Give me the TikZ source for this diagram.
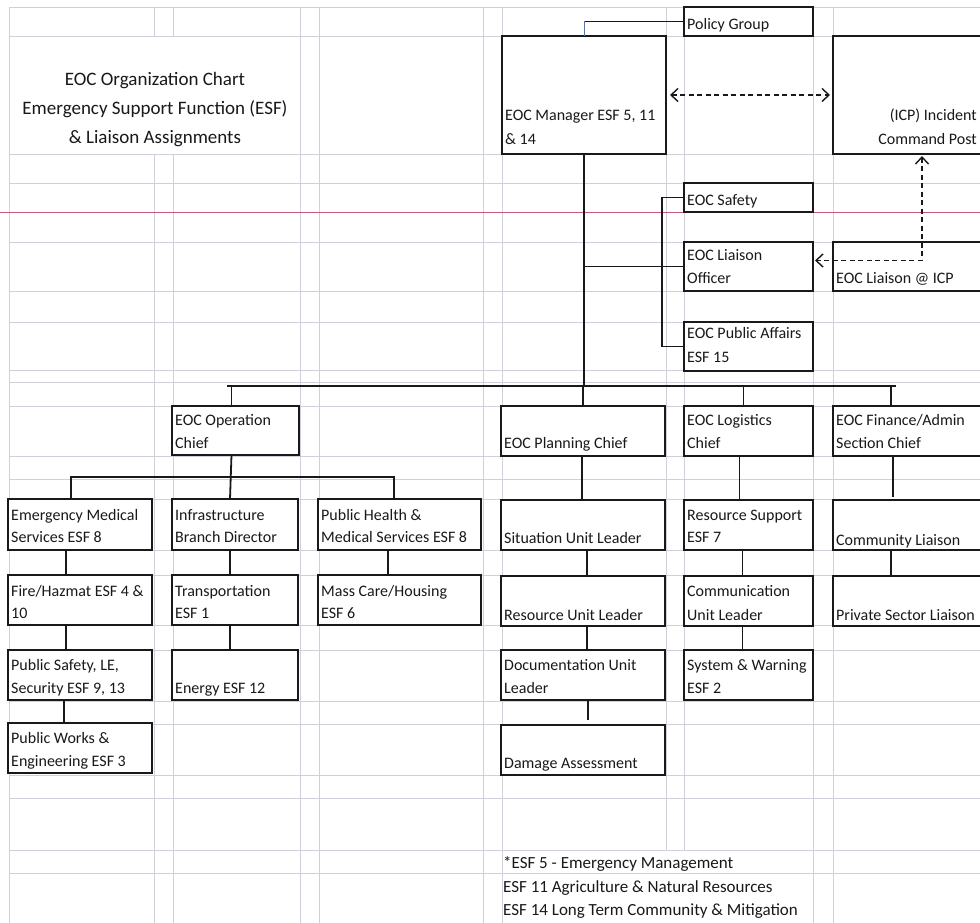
\documentclass[tikz,border=0pt]{standalone}
\usepackage{fontspec}
\setmainfont{Carlito}
\usetikzlibrary{arrows.meta}
\definecolor{gridc}{RGB}{208,208,218}
\definecolor{pbreak}{RGB}{200,90,130}
\definecolor{ink}{RGB}{25,25,25}
\definecolor{tickc}{RGB}{90,120,165}
\newcommand\obox[5]{\node[obx, minimum width={#4-#2}, minimum height={#5-#3}] (#1) at ({(#2+#4)/2},{(#3+#5)/2}) {};}
\newcommand\tl[4]{\node[txt, anchor=base west] (#1) at (#2,#3) {#4};}
\tikzset{
  gridl/.style={draw=gridc, line width=0.8pt},
  obx/.style={draw=ink, fill=white, line width=1.9pt, inner sep=0pt, outer sep=0pt},
  txt/.style={inner sep=0pt, text=ink, font=\fontsize{16}{19}\selectfont},
  fnote/.style={inner sep=0pt, text=ink, font=\fontsize{17}{20}\selectfont, anchor=base west},
  ttl/.style={inner sep=0pt, text=ink, font=\fontsize{19}{23}\selectfont, anchor=base},
  conn/.style={draw=ink, line width=1.8pt},
  dsh/.style={draw=ink, line width=1.4pt, dash pattern=on 5pt off 3.5pt,
    {Straight Barb[length=7pt,width=13pt]}-{Straight Barb[length=7pt,width=13pt]}}
}
\begin{document}
\begin{tikzpicture}[x=1pt,y=-1pt]
\useasboundingbox (0,0) rectangle (980,923);
\fill[white] (0,0) rectangle (980,923);
% spreadsheet grid
\foreach \y in {7,36,154,183,242,291,322,370,382,406,456,479,499,550,575,625,650,701,724,775,798,850,873}
  \draw[gridl] (9,\y) -- (980,\y);
\foreach \x in {9,300,319,483,502,813,833}
  \draw[gridl] (\x,7) -- (\x,923);
\foreach \x in {154,173} {\draw[gridl] (\x,7) -- (\x,36); \draw[gridl] (\x,154) -- (\x,923);}
\foreach \x in {666,684} \draw[gridl] (\x,7) -- (\x,850);
\draw[pbreak, line width=0.9pt] (0,212) -- (980,212);
% title
\node[ttl] (t1) at (155,86) {EOC Organization Chart};
\node[ttl] (t2) at (155,115) {Emergency Support Function (ESF)};
\node[ttl] (t3) at (155,144) {\& Liaison Assignments};
% boxes
\obox{pg}{684}{7}{813}{36}
\obox{mgr}{502}{36}{666}{154}
\obox{icp}{833}{36}{1000}{154}
\obox{safety}{684}{183}{813}{212}
\obox{liaison}{684}{242}{813}{291}
\obox{pa}{684}{322}{813}{371}
\obox{lic}{833}{242}{1000}{291}
\obox{opc}{172}{406}{299}{455}
\obox{plc}{501}{406}{665}{456}
\obox{lgc}{684}{406}{813}{456}
\obox{fin}{833}{406}{1000}{456}
\obox{ems}{8}{499}{152}{550}
\obox{infra}{172}{499}{298}{550}
\obox{ph}{318}{499}{481}{550}
\obox{sit}{501}{500}{665}{550}
\obox{rs}{684}{500}{813}{550}
\obox{cl}{833}{500}{1000}{550}
\obox{fh}{8}{575}{152}{625}
\obox{tr}{172}{575}{298}{625}
\obox{mc}{318}{575}{481}{625}
\obox{ru}{501}{576}{665}{626}
\obox{cu}{684}{576}{813}{626}
\obox{ps}{833}{576}{1000}{626}
\obox{pse}{8}{650}{152}{700}
\obox{en}{172}{650}{298}{700}
\obox{du}{501}{650}{665}{700}
\obox{sw}{684}{650}{813}{700}
\obox{pw}{8}{723}{152}{773}
\obox{da}{501}{725}{665}{775}
% labels
\tl{pg1}{687}{30}{Policy Group}
\tl{mgr1}{505}{121}{EOC Manager ESF 5, 11}
\tl{mgr2}{505}{145}{\& 14}
\node[txt, anchor=base east] (icp1) at (977,121) {(ICP) Incident};
\node[txt, anchor=base east] (icp2) at (977,145) {Command Post};
\tl{sf1}{687}{205}{EOC Safety}
\tl{lo1}{687}{260}{EOC Liaison}
\tl{lo2}{687}{283}{Officer}
\tl{pa1}{687}{338}{EOC Public Affairs}
\tl{pa2}{687}{362}{ESF 15}
\tl{lic1}{836}{283}{EOC Liaison @ ICP}
\tl{opc1}{175}{425}{EOC Operation}
\tl{opc2}{175}{448}{Chief}
\tl{plc1}{504}{448}{EOC Planning Chief}
\tl{lgc1}{687}{425}{EOC Logistics}
\tl{lgc2}{687}{448}{Chief}
\tl{fin1}{836}{425}{EOC Finance/Admin}
\tl{fin2}{836}{448}{Section Chief}
\tl{ems1}{11}{520}{Emergency Medical}
\tl{ems2}{11}{542}{Services ESF 8}
\tl{inf1}{175}{520}{Infrastructure}
\tl{inf2}{175}{542}{Branch Director}
\tl{ph1}{321}{520}{Public Health \&}
\tl{ph2}{321}{542}{Medical Services ESF 8}
\tl{sit1}{504}{543}{Situation Unit Leader}
\tl{rs1}{687}{520}{Resource Support}
\tl{rs2}{687}{542}{ESF 7}
\tl{cl1}{836}{545}{Community Liaison}
\tl{fh1}{11}{596}{Fire/Hazmat ESF 4 \&}
\tl{fh2}{11}{618}{10}
\tl{tr1}{175}{596}{Transportation}
\tl{tr2}{175}{618}{ESF 1}
\tl{mc1}{321}{596}{Mass Care/Housing}
\tl{mc2}{321}{618}{ESF 6}
\tl{ru1}{504}{620}{Resource Unit Leader}
\tl{cu1}{687}{596}{Communication}
\tl{cu2}{687}{620}{Unit Leader}
\tl{ps1}{836}{620}{Private Sector Liaison}
\tl{pse1}{11}{670}{Public Safety, LE,}
\tl{pse2}{11}{693}{Security ESF 9, 13}
\tl{en1}{175}{693}{Energy ESF 12}
\tl{du1}{504}{670}{Documentation Unit}
\tl{du2}{504}{693}{Leader}
\tl{sw1}{687}{670}{System \& Warning}
\tl{sw2}{687}{693}{ESF 2}
\tl{pw1}{11}{743}{Public Works \&}
\tl{pw2}{11}{766}{Engineering ESF 3}
\tl{da1}{504}{768}{Damage Assessment}
\node[fnote] (fn1) at (503,868) {*ESF 5 - Emergency Management};
\node[fnote] (fn2) at (503,892) {ESF 11 Agriculture \& Natural Resources};
\node[fnote] (fn3) at (503,915) {ESF 14 Long Term Community \& Mitigation};
% connectors
\coordinate (busL) at (227,386);
\coordinate (busR) at (896,386);
\draw[conn] (pg.west) -- (pg.west -| mgr.north);
\draw[draw=tickc, line width=1pt] (pg.west -| mgr.north) -- (mgr.north);
\draw[conn] (mgr.south) -- (mgr.south |- busL);
\draw[conn] (busL) -- (busR);
\draw[conn] (safety.west) -- ++(-22,0) |- (pa.west);
\draw[conn] (mgr.south |- liaison.west) -- (liaison.west);
\draw[conn] ([xshift=-4]opc.north |- busL) -- ([xshift=-4]opc.north);
\draw[conn] (plc.north |- busL) -- (plc.north);
\draw[conn] ([xshift=-5]lgc.north |- busL) -- ([xshift=-5]lgc.north);
\draw[conn] ([xshift=58]fin.north west |- busL) -- ([xshift=58]fin.north west);
% operations
\draw[conn] ([xshift=-4]opc.south) -- ([xshift=-5]infra.north);
\draw[conn] ([xshift=63]ems.north west) -- ++(0,-22) -| ([xshift=76]ph.north west);
\draw[conn] ([xshift=58]ems.south west) -- ([xshift=58]fh.north west);
\draw[conn] ([xshift=58]fh.south west) -- ([xshift=58]pse.north west);
\draw[conn] ([xshift=56]pse.south west) -- ([xshift=56]pw.north west);
\draw[conn] ([xshift=-5]infra.south) -- ([xshift=-5]tr.north);
\draw[conn] ([xshift=-5]tr.south) -- ([xshift=-5]en.north);
\draw[conn] ([xshift=70]ph.south west) -- ([xshift=70]mc.north west);
% planning
\draw[conn] ([xshift=-1]plc.south) -- ([xshift=-1]sit.north);
\draw[conn] ([xshift=4]sit.south) -- ([xshift=4]ru.north);
\draw[conn] ([xshift=4]ru.south) -- ([xshift=4]du.north);
\draw[conn, shorten >=5pt] ([xshift=5]du.south) -- ([xshift=5]da.north);
% logistics
\draw[conn] ([xshift=-9]lgc.south) -- ([xshift=-9]rs.north);
\draw[conn] ([xshift=-6]rs.south) -- ([xshift=-6]cu.north);
\draw[conn] ([xshift=-6]cu.south) -- ([xshift=-6]sw.north);
% finance
\draw[conn, shorten >=3pt] ([xshift=60]fin.south west) -- ([xshift=60]cl.north west);
\draw[conn] ([xshift=58]cl.south west) -- ([xshift=58]ps.north west);
% dashed links
\draw[dsh] ([xshift=4]mgr.east) -- ([xshift=-3]icp.west);
\draw[dsh] ([xshift=89,yshift=-2]icp.south west) |- ([xshift=2,yshift=6]liaison.east);
\end{tikzpicture}
\end{document}
